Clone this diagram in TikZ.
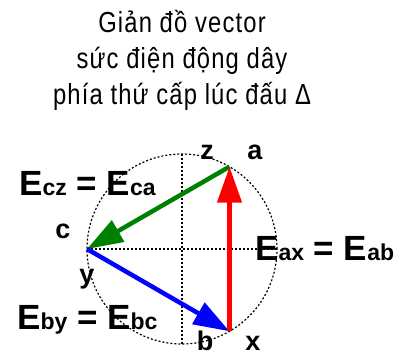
\documentclass[tikz,border=0pt]{standalone}
\usepackage{fontspec}
\setmainfont{Liberation Sans}
\newfontfamily\titlefont[FakeStretch=0.82, LetterSpace=4]{Liberation Sans}
\usetikzlibrary{arrows.meta}
\definecolor{vecred}{RGB}{255,0,0}
\definecolor{vecgreen}{RGB}{0,128,0}
\definecolor{vecblue}{RGB}{0,0,255}
\newcommand{\esub}[1]{{\fontsize{23}{23}\selectfont #1}}
\tikzset{
  guide/.style={line width=1.2pt, dash pattern=on 2pt off 2pt},
  vec/.style={line width=4.5pt, -{Triangle[length=36pt, width=24pt]}},
  ptlabel/.style={anchor=base, font=\bfseries\fontsize{27}{27}\selectfont, inner sep=0pt},
  elabel/.style={anchor=base west, font=\bfseries\fontsize{35}{35}\selectfont, inner sep=0pt},
  titleline/.style={anchor=base, font=\titlefont\fontsize{29}{29}\selectfont, inner sep=0pt}
}

\begin{document}
\begin{tikzpicture}[x=1pt, y=-1pt]
  \useasboundingbox (0,0) rectangle (404,356);
  % title
  \node[titleline] (title1) at (182,32) {Giản đồ vector};
  \node[titleline] (title2) at (182,68) {sức điện động dây};
  \node[titleline] (title3) at (182,104) {phía thứ cấp lúc đấu Δ};
  % circle and axes
  \coordinate (o) at (182,249);
  \coordinate (a) at (229.5,166.7);
  \coordinate (b) at (229.5,331.3);
  \coordinate (c) at (87,249);
  \coordinate (top) at (182,154);
  \coordinate (bottom) at (182,344);
  \coordinate (right) at (277,249);
  \draw[guide] (o) circle [radius=95pt];
  \draw[guide] (top) -- (bottom);
  \draw[guide] (c) -- (right);
  % vectors
  \draw[vec, vecgreen] (a) -- (c);
  \draw[vec, vecblue] (c) -- (b);
  \draw[vec, vecred] (b) -- (a);
  % labels
  \node[ptlabel] (zlab) at (207,159) {z};
  \node[ptlabel] (alab) at (255,159) {a};
  \node[ptlabel] (clab) at (63,238) {c};
  \node[ptlabel] (ylab) at (87,283) {y};
  \node[ptlabel] (blab) at (205,350) {b};
  \node[ptlabel] (xlab) at (253,350) {x};
  \node[elabel] (ecz) at (19,195) {E\esub{cz} = E\esub{ca}};
  \node[elabel] (eax) at (255,260) {E\esub{ax} = E\esub{ab}};
  \node[elabel] (eby) at (17,329) {E\esub{by} = E\esub{bc}};
\end{tikzpicture}
\end{document}
